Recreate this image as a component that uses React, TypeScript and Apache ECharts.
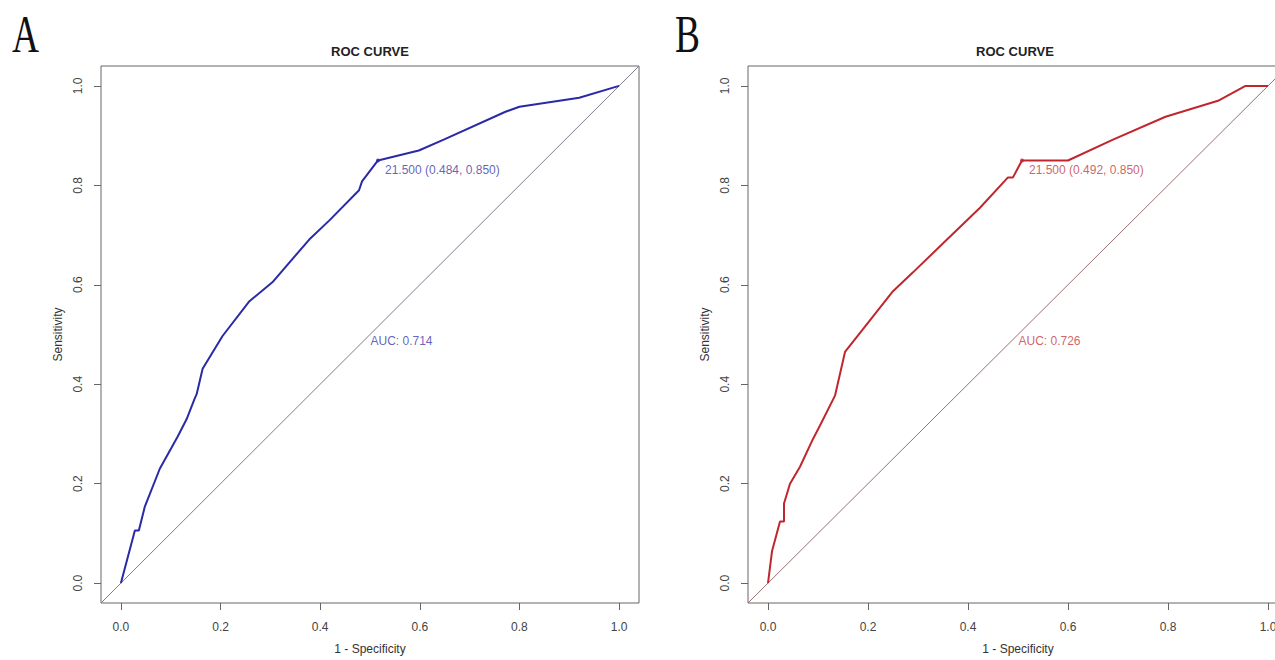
import React, { useEffect, useRef } from "react";
import * as echarts from "echarts";

// Panel A (blue) ROC curve: 1 - specificity vs sensitivity
const aFpr = [0, 0.028, 0.036, 0.048, 0.078, 0.114, 0.132, 0.148, 0.152, 0.164, 0.204, 0.258, 0.304, 0.378, 0.418, 0.478, 0.484, 0.516, 0.598, 0.648, 0.772, 0.8, 0.92, 1.0];
const aTpr = [0, 0.106, 0.106, 0.154, 0.23, 0.295, 0.33, 0.371, 0.38, 0.431, 0.497, 0.567, 0.605, 0.691, 0.729, 0.79, 0.808, 0.85, 0.87, 0.892, 0.948, 0.958, 0.976, 1.0];
// Panel B (red) ROC curve
const bFpr = [0, 0.008, 0.024, 0.032, 0.032, 0.044, 0.064, 0.09, 0.104, 0.134, 0.154, 0.19, 0.25, 0.29, 0.358, 0.424, 0.48, 0.49, 0.508, 0.6, 0.69, 0.795, 0.9, 0.955, 1.0];
const bTpr = [0, 0.064, 0.124, 0.124, 0.16, 0.2, 0.234, 0.29, 0.317, 0.377, 0.465, 0.511, 0.587, 0.625, 0.691, 0.755, 0.816, 0.816, 0.85, 0.85, 0.892, 0.938, 0.97, 1.0, 1.0];

const panelLetters = ["A", "B"];
const titles = ["ROC CURVE", "ROC CURVE"];
const thresholdPoints = [[0.516, 0.85], [0.508, 0.85]];
const thresholdLabels = ["21.500 (0.484, 0.850)", "21.500 (0.492, 0.850)"];
const aucPos = [0.5, 0.5];
const aucLabels = ["AUC: 0.714", "AUC: 0.726"];
const tickValues = [0, 0.2, 0.4, 0.6, 0.8, 1.0];
const diagonal = [[-0.04, -0.04], [1.04, 1.04]];

const curveColors = ["#2a2aa6", "#c0262d"];
const textColors = ["#3a3aa8", "#c23a40"];
const diagColors = ["#7e7e8c", "#9a7070"];

const grids = [
  { left: 101, top: 66, width: 538, height: 539 },
  { left: 748, top: 66, width: 540, height: 539 },
];

export default function App() {
  const ref = useRef<HTMLDivElement>(null);
  useEffect(() => {
    if (!ref.current) return;
    const chart = echarts.init(ref.current, null, { renderer: "svg" });
    const font = "Liberation Sans";
    const curves = [
      aFpr.map((x, i) => [x, aTpr[i]]),
      bFpr.map((x, i) => [x, bTpr[i]]),
    ];
    const xAxes = grids.map((_, i) => ({
      type: "value",
      gridIndex: i,
      min: -0.04,
      max: 1.04,
      axisLine: { show: false, onZero: false },
      splitLine: { show: false },
      axisTick: { show: true, length: 7, customValues: tickValues, lineStyle: { color: "#666" } },
      axisLabel: {
        customValues: tickValues,
        formatter: (v: number) => v.toFixed(1),
        margin: 18,
        fontSize: 12,
        color: "#444",
        fontFamily: font,
      },
      name: "1 - Specificity",
      nameLocation: "middle",
      nameGap: 40,
      nameTextStyle: { fontSize: 12, color: "#333", fontFamily: font },
    }));
    const yAxes = grids.map((_, i) => ({
      type: "value",
      gridIndex: i,
      min: -0.04,
      max: 1.04,
      axisLine: { show: false, onZero: false },
      splitLine: { show: false },
      axisTick: { show: true, length: 7, customValues: tickValues, lineStyle: { color: "#666" } },
      axisLabel: {
        customValues: tickValues,
        formatter: (v: number) => v.toFixed(1),
        margin: 17,
        rotate: 90,
        fontSize: 12,
        color: "#444",
        fontFamily: font,
      },
      name: "Sensitivity",
      nameLocation: "middle",
      nameGap: 37,
      nameTextStyle: { fontSize: 12, color: "#333", fontFamily: font },
    }));
    const series: any[] = [];
    grids.forEach((_, i) => {
      series.push({
        type: "line",
        xAxisIndex: i,
        yAxisIndex: i,
        data: diagonal,
        showSymbol: false,
        silent: true,
        lineStyle: { color: diagColors[i], width: 1 },
      });
      series.push({
        type: "line",
        xAxisIndex: i,
        yAxisIndex: i,
        data: curves[i],
        showSymbol: false,
        silent: true,
        lineStyle: { color: curveColors[i], width: 2 },
      });
      series.push({
        type: "scatter",
        xAxisIndex: i,
        yAxisIndex: i,
        data: [thresholdPoints[i]],
        symbolSize: 4,
        itemStyle: { color: curveColors[i] },
        label: {
          show: true,
          formatter: thresholdLabels[i],
          position: "right",
          distance: 5,
          offset: [0, 10],
          fontSize: 12,
          color: textColors[i],
          fontFamily: font,
        },
      });
      series.push({
        type: "scatter",
        xAxisIndex: i,
        yAxisIndex: i,
        data: [aucPos],
        symbolSize: 1,
        itemStyle: { color: "transparent" },
        label: {
          show: true,
          formatter: aucLabels[i],
          position: "right",
          distance: 0,
          offset: [0, 6],
          fontSize: 12,
          color: textColors[i],
          fontFamily: font,
        },
      });
    });
    const graphic: any[] = [];
    grids.forEach((g, i) => {
      graphic.push({
        type: "text",
        x: i === 0 ? g.left + g.width / 2 : 1015,
        y: 51,
        style: {
          text: titles[i],
          fontSize: 13,
          fontWeight: "bold",
          fill: "#222",
          fontFamily: font,
          align: "center",
          verticalAlign: "middle",
        },
      });
    });
    graphic.push({
      type: "text",
      x: 12,
      y: 35,
      scaleX: 0.72,
      style: { text: panelLetters[0], fontSize: 52, fill: "#111", fontFamily: "Liberation Serif", align: "left", verticalAlign: "middle" },
    });
    graphic.push({
      type: "text",
      x: 675,
      y: 35,
      scaleX: 0.72,
      style: { text: panelLetters[1], fontSize: 52, fill: "#111", fontFamily: "Liberation Serif", align: "left", verticalAlign: "middle" },
    });
    chart.setOption({
      animation: false,
      backgroundColor: "#fff",
      textStyle: { fontFamily: font },
      grid: grids.map((g) => ({ ...g, show: true, borderColor: "#666", borderWidth: 1, backgroundColor: "transparent" })),
      xAxis: xAxes,
      yAxis: yAxes,
      series,
      graphic,
    });
    return () => chart.dispose();
  }, []);
  return <div ref={ref} style={{ position: "fixed", left: 0, top: 0, width: 1300, height: 660 }} />;
}
